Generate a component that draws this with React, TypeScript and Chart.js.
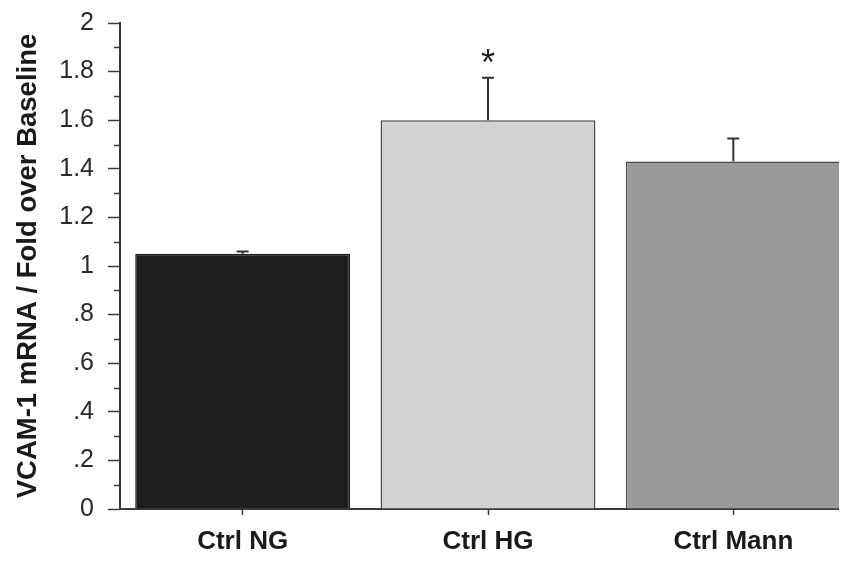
import React, { useEffect, useRef } from "react";
import { Chart, registerables } from "chart.js";

Chart.register(...registerables);

// ---- data ----
const categories = ["Ctrl NG", "Ctrl HG", "Ctrl Mann"];
const values = [1.05, 1.6, 1.43];
const errors = [0.01, 0.175, 0.095];
const markers = ["", "*", ""];
const barColors = ["#1e1e1e", "#d3d3d3", "#9a9a9a"];
const yMin = 0;
const yMax = 2;
const majorStep = 0.2;
const minorStep = 0.1;
const yTitle = "VCAM-1 mRNA / Fold over Baseline";

const FONT = "'Liberation Sans', Arial, Helvetica, sans-serif";
const AXIS = "#3a3a3a";

function fmtTick(v: number): string {
  const r = Math.round(v * 10) / 10;
  if (r > 0 && r < 1) return "." + Math.round(r * 10);
  return String(r);
}

const extrasPlugin = {
  id: "extras",
  afterDraw(chart: any) {
    const ctx = chart.ctx;
    const y = chart.scales.y;
    const area = chart.chartArea;
    // minor ticks
    ctx.save();
    ctx.strokeStyle = AXIS;
    ctx.lineWidth = 1.5;
    const n = Math.round((yMax - yMin) / minorStep);
    for (let i = 1; i < n; i += 2) {
      const v = yMin + i * minorStep;
      const py = Math.round(y.getPixelForValue(v)) + 0.5;
      ctx.beginPath();
      ctx.moveTo(area.left - 6, py);
      ctx.lineTo(area.left, py);
      ctx.stroke();
    }
    ctx.restore();
  },
  afterDatasetsDraw(chart: any) {
    const ctx = chart.ctx;
    const y = chart.scales.y;
    const meta = chart.getDatasetMeta(0);
    ctx.save();
    ctx.strokeStyle = "#333";
    ctx.lineWidth = 2;
    meta.data.forEach((bar: any, i: number) => {
      const x = bar.x;
      const top = y.getPixelForValue(values[i]);
      const et = y.getPixelForValue(values[i] + errors[i]);
      ctx.beginPath();
      ctx.moveTo(x, top);
      ctx.lineTo(x, et);
      ctx.moveTo(x - 6, et);
      ctx.lineTo(x + 6, et);
      ctx.stroke();
      if (markers[i]) {
        ctx.fillStyle = "#222";
        ctx.font = `36px ${FONT}`;
        ctx.textAlign = "center";
        ctx.textBaseline = "alphabetic";
        ctx.fillText(markers[i], x, et - 3);
      }
    });
    ctx.restore();
  },
};

export default function App() {
  const ref = useRef<HTMLCanvasElement | null>(null);
  useEffect(() => {
    if (!ref.current) return;
    const chart = new Chart(ref.current, {
      type: "bar",
      data: {
        labels: categories,
        datasets: [
          {
            data: values,
            backgroundColor: barColors,
            borderColor: ["#1e1e1e", "#4a4a4a", "#4a4a4a"],
            borderWidth: 1.5,
            borderSkipped: "bottom",
            categoryPercentage: 1,
            barPercentage: 0.876,
          },
        ],
      },
      options: {
        responsive: false,
        animation: false,
        layout: { padding: { top: 15, left: 0, right: 0, bottom: 0 } },
        plugins: {
          legend: { display: false },
          tooltip: { enabled: false },
          title: { display: false },
        },
        scales: {
          x: {
            grid: {
              display: true,
              drawOnChartArea: false,
              offset: false,
              tickLength: 6,
              tickColor: AXIS,
              tickWidth: 1.5,
            },
            border: { display: true, color: AXIS, width: 2 },
            ticks: {
              color: "#1a1a1a",
              padding: 11,
              font: { family: FONT, size: 26, weight: "bold" },
            },
            afterFit: (s: any) => {
              s.height = 61;
              s.paddingLeft = 0;
              s.paddingRight = 0;
            },
          },
          y: {
            min: yMin,
            max: yMax,
            grid: {
              display: true,
              drawOnChartArea: false,
              tickLength: 12,
              tickWidth: 1.5,
              tickColor: AXIS,
            },
            border: { display: true, color: AXIS, width: 2 },
            ticks: {
              stepSize: majorStep,
              autoSkip: false,
              padding: 14,
              color: "#2a2a2a",
              font: { family: FONT, size: 25 },
              callback: (v: any) => fmtTick(Number(v)),
            },
            title: {
              display: true,
              text: yTitle,
              color: "#1a1a1a",
              padding: { top: 4, bottom: 0 },
              font: { family: FONT, size: 27.5, weight: "bold" },
            },
            afterFit: (s: any) => {
              s.width = 112;
              s.paddingTop = 0;
              s.paddingBottom = 0;
            },
          },
        },
      },
      plugins: [extrasPlugin],
    });
    return () => chart.destroy();
  }, []);
  return (
    <div style={{ width: 839, height: 562, overflow: "hidden" }}>
      <canvas ref={ref} width={848} height={562} style={{ display: "block" }} />
    </div>
  );
}
